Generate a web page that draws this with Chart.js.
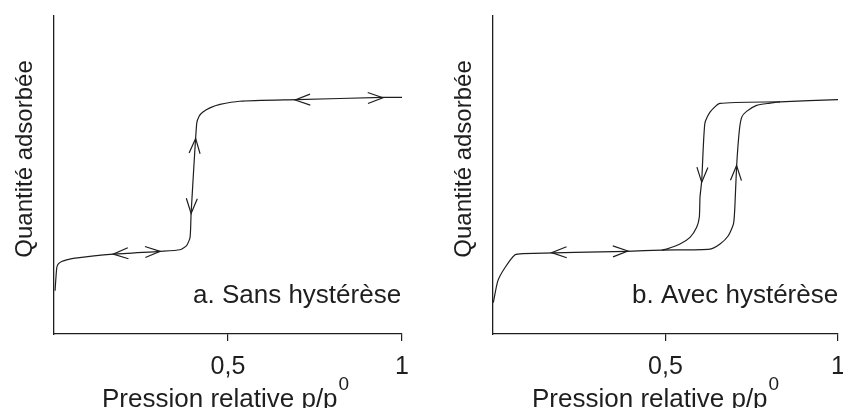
<!DOCTYPE html>
<html>
<head>
<meta charset="utf-8">
<script src="https://cdn.jsdelivr.net/npm/chart.js@4/dist/chart.umd.min.js"></script>
<style>
  html, body { margin: 0; padding: 0; background: #fff; }
  #wrap { position: relative; width: 843px; height: 408px; overflow: hidden; }
  canvas { position: absolute; top: 0; }
  #ca { left: 0; }
  #cb { left: 439px; }
</style>
</head>
<body>
<div id="wrap">
  <canvas id="ca" width="439" height="408"></canvas>
  <canvas id="cb" width="425" height="408"></canvas>
</div>
<script>
// Relative-pressure ticks and their labels (decimal comma)
const xTickValues = [0.5, 1];
const xTickLabels = ['0,5', '1'];

// a. Isotherm without hysteresis (adsorption and desorption share one path)
const sansX = [0.003, 0.008, 0.013, 0.022, 0.036, 0.055, 0.170, 0.305, 0.362, 0.381, 0.391, 0.394, 0.410, 0.417, 0.428, 0.448, 0.477, 0.534, 0.697, 0.945, 1.0];
const sansY = [0.136, 0.209, 0.221, 0.228, 0.233, 0.238, 0.251, 0.260, 0.265, 0.278, 0.304, 0.379, 0.662, 0.685, 0.698, 0.711, 0.722, 0.732, 0.737, 0.744, 0.744];

// Direction arrows on curve a: tip and a point behind it on the curve
const sansArrowTipX  = [0.170, 0.305, 0.394, 0.407, 0.693, 0.945];
const sansArrowTipY  = [0.251, 0.260, 0.379, 0.615, 0.736, 0.743];
const sansArrowTailX = [0.213, 0.261, 0.396, 0.404, 0.736, 0.902];
const sansArrowTailY = [0.254, 0.258, 0.426, 0.568, 0.737, 0.742];

// b. Isotherm with hysteresis: adsorption branch
const adsX = [0.001, 0.014, 0.035, 0.064, 0.087, 0.388, 0.489, 0.629, 0.658, 0.682, 0.697, 0.701, 0.706, 0.714, 0.721, 0.735, 0.764, 0.803, 0.832, 1.0];
const adsY = [0.099, 0.167, 0.209, 0.249, 0.253, 0.260, 0.264, 0.267, 0.283, 0.309, 0.346, 0.398, 0.525, 0.640, 0.682, 0.700, 0.719, 0.726, 0.730, 0.737];

// b. desorption branch
const desX = [0.832, 0.658, 0.629, 0.614, 0.605, 0.600, 0.598, 0.590, 0.571, 0.542, 0.503, 0.489];
const desY = [0.730, 0.725, 0.698, 0.662, 0.483, 0.430, 0.367, 0.335, 0.304, 0.283, 0.267, 0.264];

// Direction arrows on curve b
const avecArrowTipX  = [0.170, 0.391, 0.605, 0.706];
const avecArrowTipY  = [0.256, 0.261, 0.477, 0.530];
const avecArrowTailX = [0.214, 0.348, 0.607, 0.704];
const avecArrowTailY = [0.257, 0.260, 0.525, 0.476];

const INK = '#1e1e1e';
const FONT = '"Liberation Sans", Arial, Helvetica, sans-serif';

// Draws the direction chevrons, the panel caption and the axis titles
const panelText = {
  id: 'panelText',
  afterDatasetsDraw(chart, args, o) {
    const { ctx, chartArea: ca, scales: { x, y } } = chart;
    ctx.save();
    ctx.strokeStyle = INK;
    ctx.lineWidth = 1.2;
    ctx.lineJoin = 'miter';
    o.tipX.forEach((tx, i) => {
      const px = x.getPixelForValue(tx), py = y.getPixelForValue(o.tipY[i]);
      const qx = x.getPixelForValue(o.tailX[i]), qy = y.getPixelForValue(o.tailY[i]);
      let dx = px - qx, dy = py - qy;
      const len = Math.hypot(dx, dy);
      dx /= len; dy /= len;
      const L = 15, W = 5.5;
      ctx.beginPath();
      ctx.moveTo(px - L * dx - W * dy, py - L * dy + W * dx);
      ctx.lineTo(px, py);
      ctx.lineTo(px - L * dx + W * dy, py - L * dy - W * dx);
      ctx.stroke();
    });

    ctx.fillStyle = INK;
    ctx.textAlign = 'left';
    ctx.textBaseline = 'alphabetic';

    // panel caption
    ctx.font = '26px ' + FONT;
    ctx.fillText(o.caption, ca.left + 139, 303);

    // x title with superscript
    const main = 'Pression relative p/p';
    const tx0 = ca.left + o.titleOffset;
    ctx.fillText(main, tx0, 406.5);
    const w = ctx.measureText(main).width;
    ctx.font = '19px ' + FONT;
    ctx.fillText('0', tx0 + w + 1, 390);

    // y title
    ctx.translate(ca.left - 22.5, 159);
    ctx.rotate(-Math.PI / 2);
    ctx.font = '24px ' + FONT;
    ctx.textAlign = 'center';
    ctx.fillText('Quantité adsorbée', 0, 0);
    ctx.restore();
  }
};

function series(xs, ys) {
  return {
    data: xs.map((v, i) => ({ x: v, y: ys[i] })),
    showLine: true,
    borderColor: INK,
    borderWidth: 1.2,
    pointRadius: 0,
    tension: 0.2,
    fill: false
  };
}

function isoChart(id, datasets, opts) {
  return new Chart(document.getElementById(id), {
    type: 'scatter',
    data: { datasets },
    options: {
      responsive: false,
      animation: false,
      devicePixelRatio: 1,
      layout: { padding: { left: 54, right: opts.padRight, top: 16, bottom: 15 } },
      plugins: { legend: { display: false }, tooltip: { enabled: false }, panelText: opts },
      scales: {
        x: {
          type: 'linear', min: 0, max: 1,
          afterBuildTicks: s => { s.ticks = [0, ...xTickValues].map(v => ({ value: v })); },
          grid: {
            drawOnChartArea: false, drawTicks: true, tickLength: 7, lineWidth: 1.2,
            color: c => (c.tick && c.tick.value === 0) ? 'rgba(0,0,0,0)' : INK
          },
          border: { display: true, color: INK, width: 1.3 },
          ticks: {
            padding: 11, color: INK, maxRotation: 0, autoSkip: false,
            font: { size: 25, family: FONT },
            callback: v => { const i = xTickValues.indexOf(v); return i < 0 ? '' : xTickLabels[i]; }
          }
        },
        y: {
          type: 'linear', min: 0, max: 1,
          grid: { display: false, drawTicks: false },
          ticks: { display: false },
          border: { display: true, color: INK, width: 1.3 }
        }
      }
    },
    plugins: [panelText]
  });
}

isoChart('ca', [series(sansX, sansY)], {
  padRight: 37, caption: 'a. Sans hystérèse', titleOffset: 48,
  tipX: sansArrowTipX, tipY: sansArrowTipY, tailX: sansArrowTailX, tailY: sansArrowTailY
});

isoChart('cb', [series(adsX, adsY), series(desX, desY)], {
  padRight: 26, caption: 'b. Avec hystérèse', titleOffset: 39,
  tipX: avecArrowTipX, tipY: avecArrowTipY, tailX: avecArrowTailX, tailY: avecArrowTailY
});
</script>
</body>
</html>
